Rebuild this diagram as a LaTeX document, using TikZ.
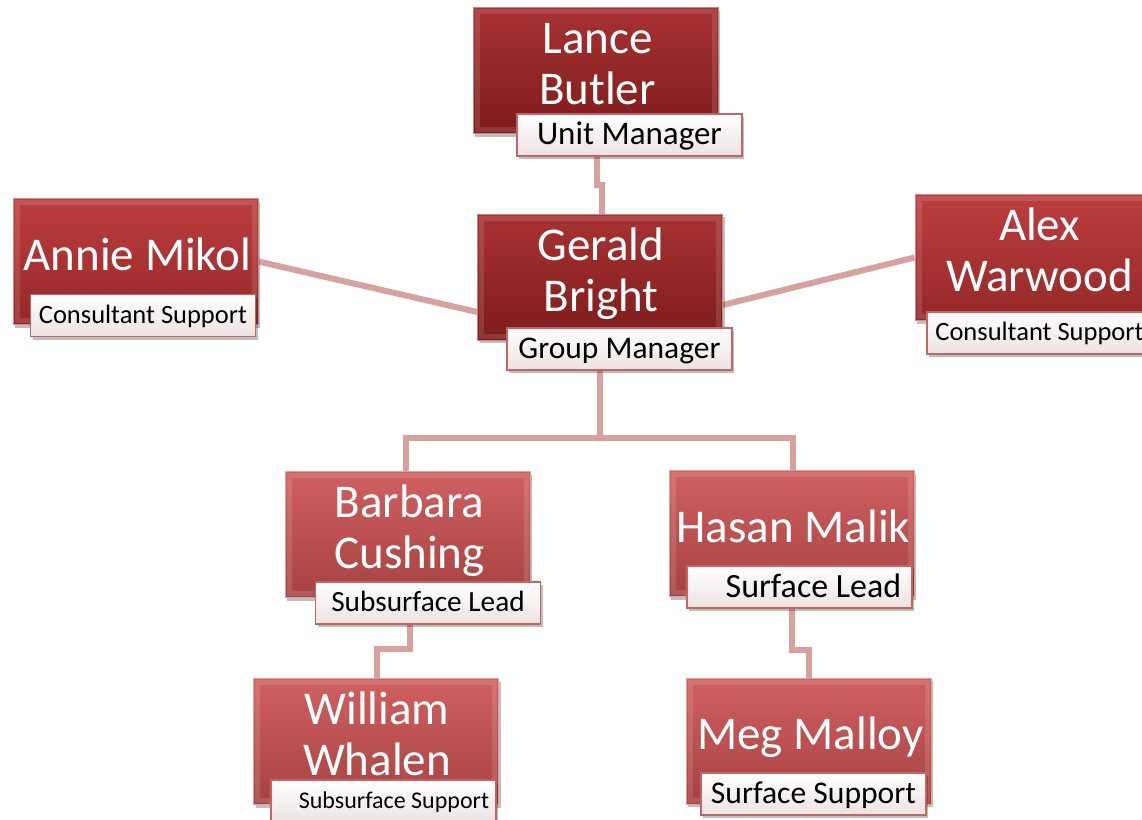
\documentclass[tikz,border=0pt]{standalone}
\usepackage{fontspec}
\setmainfont{Carlito}
\usetikzlibrary{shadows}
\pgfdeclarelayer{bg}
\pgfsetlayers{bg,main}
\definecolor{darkT}{RGB}{168,50,50}
\definecolor{darkB}{RGB}{126,28,28}
\definecolor{midT}{RGB}{188,62,62}
\definecolor{midB}{RGB}{150,40,40}
\definecolor{liteT}{RGB}{208,96,96}
\definecolor{liteB}{RGB}{166,66,66}
\definecolor{conncol}{RGB}{217,160,160}
\definecolor{labline}{RGB}{196,100,100}
\definecolor{labbot}{RGB}{236,226,226}
\newcommand\ls{\rule[-0.25em]{0pt}{1em}}
\newcommand\lt{\rule[-0.25em]{0pt}{1.1em}}
\begin{document}
\begin{tikzpicture}[x=1pt,y=-1pt,
  personbox/.style={rectangle, minimum width=245pt, minimum height=126pt, inner sep=0pt,
    line width=0.8pt,
    drop shadow={shadow xshift=2pt, shadow yshift=-3pt, opacity=0.25, fill=black},
    path picture={\draw[white, opacity=0.12, line width=5pt]
      ([shift={(4pt,-4pt)}]path picture bounding box.north west) rectangle
      ([shift={(-4pt,4pt)}]path picture bounding box.south east);}},
  darkbox/.style={personbox, top color=darkT, bottom color=darkB, draw=darkT!60!white},
  midbox/.style={personbox, top color=midT, bottom color=midB, draw=midT!60!white},
  litebox/.style={personbox, top color=liteT, bottom color=liteB, draw=liteT!60!white},
  nametext/.style={text=white, font=\fontsize{47}{51}\selectfont, align=center, inner sep=0pt},
  titlebox/.style={rectangle, minimum width=225pt, minimum height=42pt, inner sep=0pt,
    top color=white, bottom color=labbot, draw=labline, line width=1.2pt, text=black,
    drop shadow={shadow xshift=2pt, shadow yshift=-3pt, opacity=0.25, fill=black}},
  conn/.style={draw=conncol, line width=6pt}]
\useasboundingbox (0,0) rectangle (1142,819);

% Lance Butler
\node[darkbox] (lance) at (595.5,70.5) {};
\node[nametext] (lanceN) at ([shift={(2pt,3pt)}]lance.center) {\ls Lance\\\ls Butler};
\node[titlebox, font=\fontsize{33}{40}\selectfont] (lanceT) at (629.5,135) {\lt Unit Manager};

% Gerald Bright
\node[darkbox] (gerald) at (600,277) {};
\node[nametext] (geraldN) at ([shift={(1pt,3pt)}]gerald.center) {\ls Gerald\\\ls Bright};
\node[titlebox, font=\fontsize{31.5}{38}\selectfont] (geraldT) at (619.5,349) {\lt Group Manager};

% Annie Mikol
\node[midbox] (annie) at (135.5,261.5) {};
\node[nametext] (annieN) at ([shift={(2pt,3pt)}]annie.center) {\ls Annie Mikol};
\node[titlebox, font=\fontsize{26.5}{32}\selectfont] (annieT) at (143,315.5) {\lt Consultant Support};

% Alex Warwood
\node[midbox] (alex) at (1037.5,257.5) {};
\node[nametext] (alexN) at ([shift={(2pt,3pt)}]alex.center) {\ls Alex\\\ls Warwood};
\node[titlebox, font=\fontsize{26.5}{32}\selectfont] (alexT) at (1039.5,333) {\lt Consultant Support};

% Barbara Cushing
\node[litebox] (barbara) at (407.5,534.5) {};
\node[nametext] (barbaraN) at ([shift={(2pt,3pt)}]barbara.center) {\ls Barbara\\\ls Cushing};
\node[titlebox, font=\fontsize{29.3}{35}\selectfont] (barbaraT) at (428,603) {\lt Subsurface Lead};

% Hasan Malik
\node[litebox] (hasan) at (791.5,533.5) {};
\node[nametext] (hasanN) at ([shift={(2pt,3pt)}]hasan.center) {\ls Hasan Malik};
\node[titlebox, font=\fontsize{34}{40}\selectfont] (hasanT) at (799.5,587) {\lt\hspace*{28pt}Surface Lead};

% William Whalen
\node[litebox] (william) at (376,741.5) {};
\node[nametext] (williamN) at ([shift={(1pt,3pt)}]william.center) {\ls William\\\ls Whalen};
\node[titlebox, font=\fontsize{24}{29}\selectfont] (williamT) at (383.5,801) {\lt\hspace*{21pt}Subsurface Support};

% Meg Malloy
\node[litebox] (meg) at (808.5,741) {};
\node[nametext] (megN) at ([shift={(2pt,3pt)}]meg.center) {\ls Meg Malloy};
\node[titlebox, font=\fontsize{31.6}{38}\selectfont] (megT) at (813.5,794) {\lt Surface Support};

\begin{pgfonlayer}{bg}
\draw[conn] ([xshift=-33pt]lanceT.south) -- ++(0,28) -| ([xshift=2pt]gerald.north);
\draw[conn] (annie.east) -- ([yshift=-35pt]gerald.west);
\draw[conn] (alex.west) -- ([yshift=-28pt]gerald.east);
\coordinate (j) at (600,438);
\draw[conn] ([xshift=-19.5pt]geraldT.south) -- (j);
\draw[conn] (j) -| ([xshift=-1.5pt]barbara.north);
\draw[conn] (j) -| ([xshift=1.5pt]hasan.north);
\draw[conn] ([xshift=-18pt]barbaraT.south) -- ++(0,24) -| ([xshift=1pt]william.north);
\draw[conn] ([xshift=-7.5pt]hasanT.south) -- ++(0,41) -| ([xshift=0.5pt]meg.north);
\end{pgfonlayer}
\end{tikzpicture}
\end{document}
